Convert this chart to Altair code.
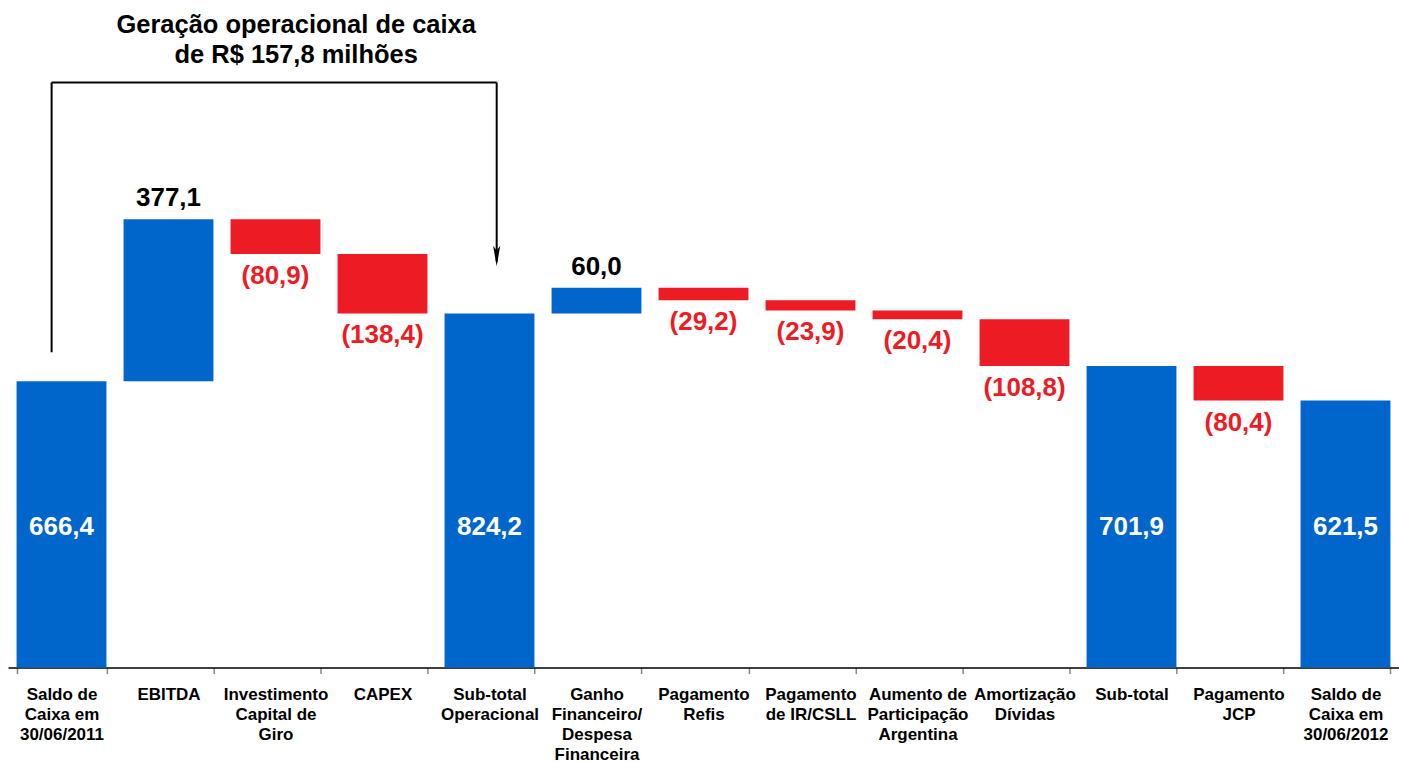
import altair as alt
import pandas as pd

categories = [
    "Saldo de|Caixa em|30/06/2011", "EBITDA", "Investimento|Capital de|Giro", "CAPEX",
    "Sub-total|Operacional", "Ganho|Financeiro/|Despesa|Financeira", "Pagamento|Refis",
    "Pagamento|de IR/CSLL", "Aumento de|Participação|Argentina", "Amortização|Dívidas",
    "Sub-total", "Pagamento|JCP", "Saldo de|Caixa em|30/06/2012",
]
values = [666.4, 377.1, -80.9, -138.4, 824.2, 60.0, -29.2, -23.9, -20.4, -108.8, 701.9, -80.4, 621.5]
kinds = ["total", "delta", "delta", "delta", "total", "delta", "delta", "delta", "delta", "delta",
         "total", "delta", "total"]

title_text = "Geração operacional de caixa\nde R$ 157,8 milhões"
total_label_level = 328
bracket_top = 1362
bracket_left_bottom = 734
bracket_right_bottom = 945
arrow_level = 958
title_level = 1495

rows = []
running = 0.0
for c, v, k in zip(categories, values, kinds):
    if k == "total":
        start, end = 0.0, v
        running = v
        lab = f"{v:.1f}".replace(".", ",")
        t = "total"
    else:
        start, end = running, running + v
        running = end
        if v >= 0:
            lab = f"{v:.1f}".replace(".", ",")
            t = "up"
        else:
            lab = "(" + f"{-v:.1f}".replace(".", ",") + ")"
            t = "down"
    rows.append({"cat": c, "start": start, "end": end, "label": lab, "type": t,
                 "lvl": total_label_level})
df = pd.DataFrame(rows)

FONT = "Liberation Sans"
W, H = 1393, 660
ydom = [0, 1534]

xscale = alt.Scale(domain=categories, paddingInner=0.16, paddingOuter=0.08)
yscale = alt.Scale(domain=ydom, nice=False, zero=False)

base = alt.Chart(df)

xenc = alt.X("cat:N", scale=xscale, sort=categories, title=None,
             axis=alt.Axis(labelAngle=0,
                           labelExpr="isValid(datum.value) ? split(datum.value, '|') : ''",
                           labelFont=FONT, labelFontSize=17, labelFontWeight="bold",
                           labelColor="black", labelLineHeight=20, labelPadding=13,
                           labelBaseline="top", labelLimit=300,
                           tickBand="extent", tickSize=6, tickColor="#888888", tickWidth=1.5,
                           domainColor="black", domainWidth=1.5, grid=False))

bars = base.mark_bar().encode(
    x=xenc,
    y=alt.Y("start:Q", scale=yscale, axis=None),
    y2="end:Q",
    color=alt.Color("type:N", scale=alt.Scale(domain=["total", "up", "down"],
                                              range=["#0066CC", "#0066CC", "#ED1C24"]),
                    legend=None),
)

tot_text = base.transform_filter("datum.type == 'total'").mark_text(
    font=FONT, fontSize=26, fontWeight="bold", color="white", baseline="middle"
).encode(x=alt.X("cat:N", scale=xscale, sort=categories), y=alt.Y("lvl:Q", scale=yscale), text="label:N")

up_text = base.transform_filter("datum.type == 'up'").mark_text(
    font=FONT, fontSize=26, fontWeight="bold", color="black", baseline="middle", dy=-21
).encode(x=alt.X("cat:N", scale=xscale, sort=categories), y=alt.Y("end:Q", scale=yscale), text="label:N")

down_text = base.transform_filter("datum.type == 'down'").mark_text(
    font=FONT, fontSize=26, fontWeight="bold", color="#ED1C24", baseline="middle", dy=22
).encode(x=alt.X("cat:N", scale=xscale, sort=categories), y=alt.Y("end:Q", scale=yscale), text="label:N")

ann = pd.DataFrame({
    "c0": [categories[0]], "c4": [categories[4]], "c2": [categories[2]],
    "top": [bracket_top], "lb": [bracket_left_bottom], "rb": [bracket_right_bottom],
    "arrow": [arrow_level], "tl": [title_level], "txt": [title_text],
})
abase = alt.Chart(ann)
rule_l = abase.mark_rule(color="black", strokeWidth=2).encode(
    x=alt.X("c0:N", scale=xscale, sort=categories, bandPosition=0.39),
    y=alt.Y("lb:Q", scale=yscale), y2="top:Q")
rule_t = abase.mark_rule(color="black", strokeWidth=2).encode(
    x=alt.X("c0:N", scale=xscale, sort=categories, bandPosition=0.39),
    x2=alt.X2("c4:N", bandPosition=0.58),
    y=alt.Y("top:Q", scale=yscale))
rule_r = abase.mark_rule(color="black", strokeWidth=2).encode(
    x=alt.X("c4:N", scale=xscale, sort=categories, bandPosition=0.58),
    y=alt.Y("rb:Q", scale=yscale), y2="top:Q")
arrow = abase.mark_point(
    shape="M -0.35 -1 L 0 1 L 0.35 -1 L 0 -0.55 Z", filled=True, color="black",
    size=420, opacity=1
).encode(
    x=alt.X("c4:N", scale=xscale, sort=categories, bandPosition=0.58),
    y=alt.Y("arrow:Q", scale=yscale))
title = abase.mark_text(
    font=FONT, fontSize=25.5, fontWeight="bold", color="black", baseline="middle",
    lineBreak="\n", lineHeight=30, align="center"
).encode(
    x=alt.X("c2:N", scale=xscale, sort=categories, bandPosition=0.73),
    y=alt.Y("tl:Q", scale=yscale), text="txt:N")

chart = alt.layer(bars, tot_text, up_text, down_text, rule_l, rule_t, rule_r, arrow, title).properties(
    width=W, height=H, padding={"left": 0, "top": 0, "right": 0, "bottom": 0}
).configure_view(stroke=None)

chart.save("out.html", embed_options={"renderer": "svg", "actions": False})
